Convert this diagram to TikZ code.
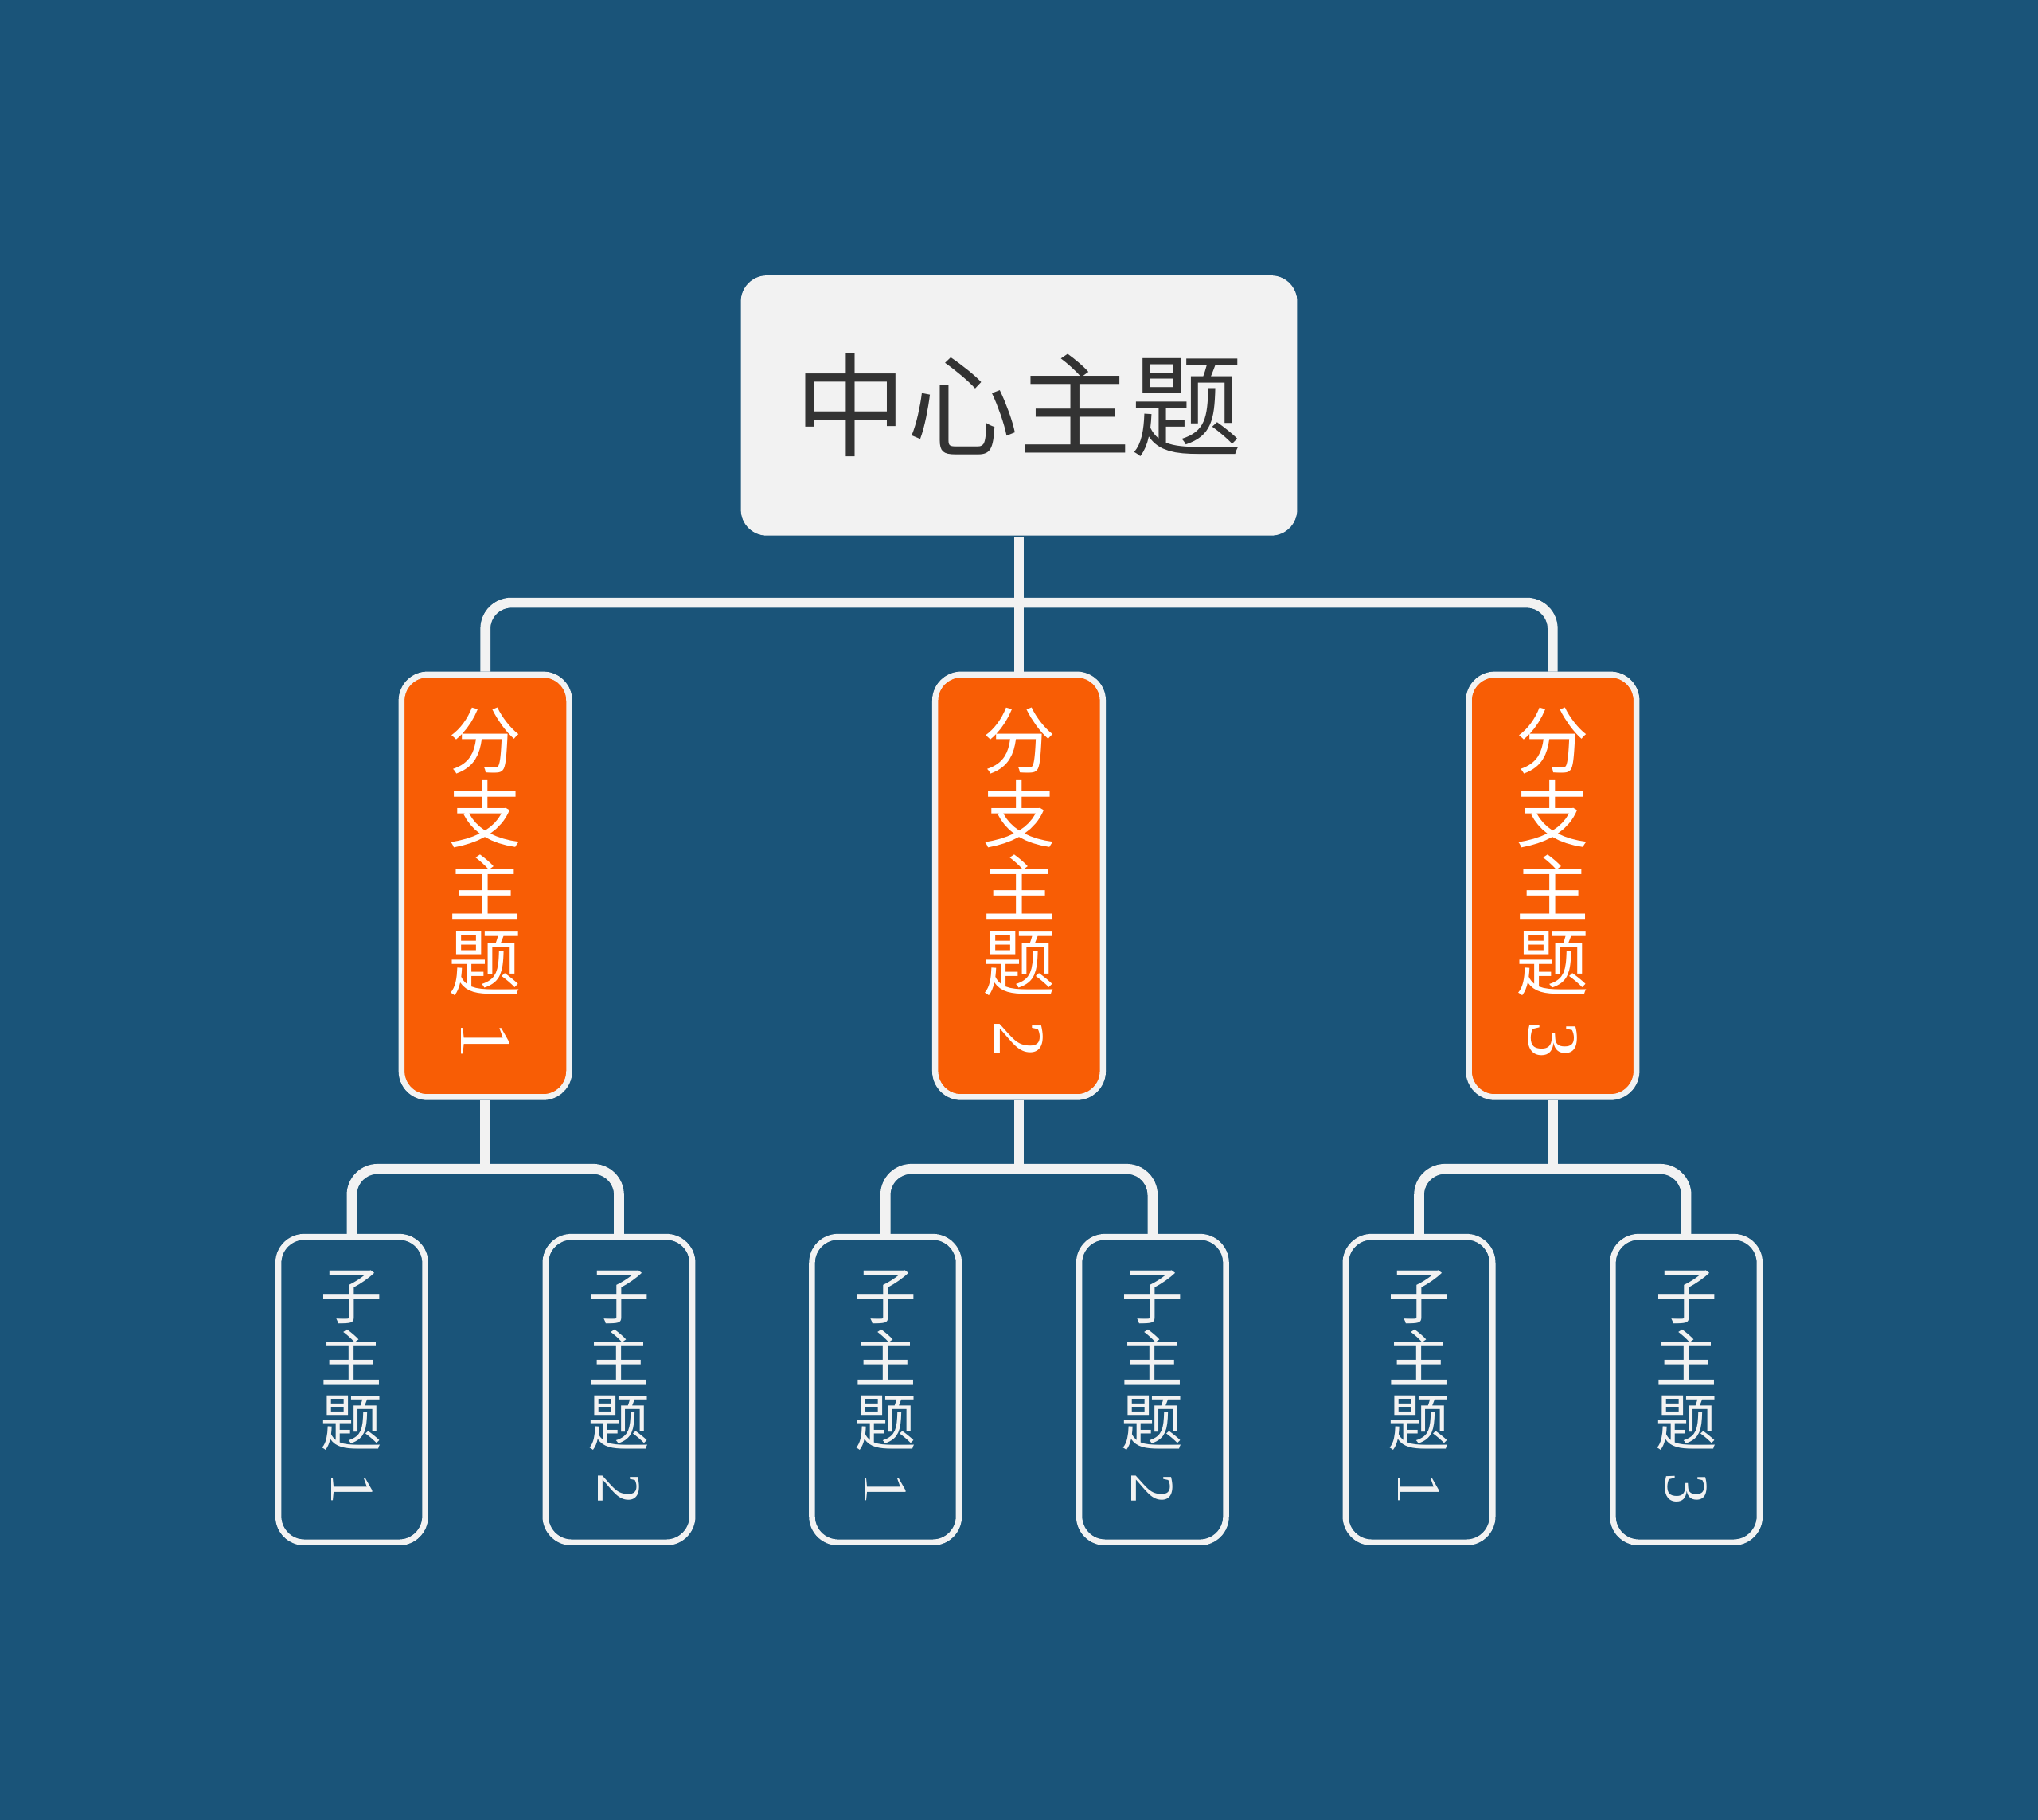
\documentclass[tikz,border=0pt]{standalone}
\usepackage{fontspec}
\newfontfamily\cjk{Noto Sans CJK SC}
\newfontfamily\digits{Liberation Serif}
\usetikzlibrary{positioning}

\definecolor{bgblue}{HTML}{1A5479}
\definecolor{branchorange}{HTML}{F85D05}
\definecolor{paper}{HTML}{F2F2F2}
\definecolor{ink}{HTML}{333333}

% digit turned on its side, as in vertical text
\newcommand{\sidenum}[1]{\rotatebox[origin=c]{-90}{\digits #1}}

\begin{document}
\begin{tikzpicture}[
	line join = round,
	main/.style={rectangle, rounded corners=0.2cm, fill=paper, text=ink, minimum width=4.28cm, minimum height=2cm, inner sep=0pt, font=\cjk\fontsize{24.5}{25}\selectfont},
	branch/.style={rectangle, rounded corners=0.2cm, draw=paper, line width=1.3pt, fill=branchorange, text=white, minimum width=1.29cm, minimum height=3.25cm, inner sep=0pt, align=center, font=\cjk\fontsize{16}{16.2}\selectfont},
	sub/.style={rectangle, rounded corners=0.2cm, draw=paper, line width=1.3pt, fill=bgblue, text=paper, minimum width=1.13cm, minimum height=2.35cm, inner sep=0pt, align=center, font=\cjk\fontsize{13.6}{13.9}\selectfont},
	link/.style={draw=paper, line width=2.2pt, rounded corners=0.2cm},
	]

	% background and page size
	\fill[bgblue] (0,0) rectangle (15.68,-14);
	\useasboundingbox (0,0) rectangle (15.68,-14);

	% Nodes and their relative positions
	\node[main] (C) at (7.84,-3.12) {中心主题};
	\node[branch] (B2) [below = 1.04 of C] {分\\支\\主\\题\\\sidenum{2}};
	\node[branch] (B1) [left  = 2.77 of B2] {分\\支\\主\\题\\\sidenum{1}};
	\node[branch] (B3) [right = 2.77 of B2] {分\\支\\主\\题\\\sidenum{3}};

	\coordinate[below = 0.53 of B1] (j1);
	\coordinate[below = 0.53 of B2] (j2);
	\coordinate[below = 0.53 of B3] (j3);

	\node[sub] (S11) [below left  = 0.5 and 0.44 of j1] {子\\主\\题\\\sidenum{1}};
	\node[sub] (S12) [below right = 0.5 and 0.44 of j1] {子\\主\\题\\\sidenum{2}};
	\node[sub] (S21) [below left  = 0.5 and 0.44 of j2] {子\\主\\题\\\sidenum{1}};
	\node[sub] (S22) [below right = 0.5 and 0.44 of j2] {子\\主\\题\\\sidenum{2}};
	\node[sub] (S31) [below left  = 0.5 and 0.44 of j3] {子\\主\\题\\\sidenum{1}};
	\node[sub] (S32) [below right = 0.5 and 0.44 of j3] {子\\主\\题\\\sidenum{3}};

	% Paths connecting nodes
	\draw[link] (C.south) -- (B2.north);
	\draw[link] (B1.north) -- ++(0,0.53) -| (B3.north);

	\draw[link] (B1.south) -- (j1);
	\draw[link] (S11.north) |- (j1) -| (S12.north);
	\draw[link] (B2.south) -- (j2);
	\draw[link] (S21.north) |- (j2) -| (S22.north);
	\draw[link] (B3.south) -- (j3);
	\draw[link] (S31.north) |- (j3) -| (S32.north);

\end{tikzpicture}
\end{document}
